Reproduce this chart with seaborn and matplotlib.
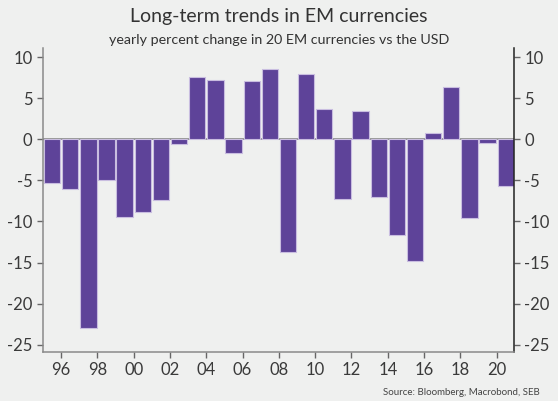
import seaborn as sns
import matplotlib.pyplot as plt
import pandas as pd
import numpy as np

years = list(range(1995, 2021))
pct_change = [-5.3, -6.0, -23.0, -5.0, -9.4, -8.8, -7.4, -0.6, 7.6, 7.2,
              -1.7, 7.1, 8.6, -13.7, 7.9, 3.7, -7.3, 3.5, -7.0, -11.7,
              -14.8, 0.75, 6.4, -9.6, -0.5, -5.7]
tick_years = list(range(1996, 2021, 2))
y_ticks = [10, 5, 0, -5, -10, -15, -20, -25]

bg = "#eff0ef"
bar_color = "#5e4399"

df = pd.DataFrame({"year": years, "change": pct_change})

sns.set_style("ticks")
plt.rcParams["font.family"] = ["Lato", "DejaVu Sans"]

fig = plt.figure(figsize=(5.58, 4.01), dpi=100, facecolor=bg)
ax = fig.add_axes([0.077, 0.122, 0.844, 0.758])
ax.set_facecolor(bg)

sns.barplot(data=df, x="year", y="change", color=bar_color, saturation=1,
            width=0.9, edgecolor="#c9bde0", linewidth=0.8, ax=ax)

ax.axhline(0, color="#8a8a8a", linewidth=1.2, zorder=0)

# ticks sit on the year boundaries
pos = [years.index(y) - 0.5 for y in tick_years]
ax.set_xticks(pos)
ax.set_xticklabels([f"{y % 100:02d}" for y in tick_years])
ax.set_xlim(-0.5, len(years) - 0.55)
ax.set_ylim(-25.9, 11.1)
ax.set_yticks(y_ticks)
ax.set_yticklabels([str(v) for v in y_ticks])
ax.set_xlabel("")
ax.set_ylabel("")

ax.tick_params(axis="both", labelsize=12, color="#666666", labelcolor="#3a3a3a",
               length=4, width=1)
ax.tick_params(axis="y", right=True, labelright=True)

ax.spines["top"].set_visible(False)
ax.spines["left"].set_color("#8a8a8a")
ax.spines["bottom"].set_color("#8a8a8a")
ax.spines["right"].set_visible(True)
ax.spines["right"].set_color("#222222")
for s in ["left", "bottom", "right"]:
    ax.spines[s].set_linewidth(1.1)

fig.text(0.5, 0.96, "Long-term trends in EM currencies", ha="center",
         va="center", fontsize=14, color="#333333")
fig.text(0.5, 0.9, "yearly percent change in 20 EM currencies vs the USD",
         ha="center", va="center", fontsize=10.3, color="#333333")
fig.text(0.968, 0.022, "Source: Bloomberg, Macrobond, SEB", ha="right",
         va="center", fontsize=7, color="#444444")

fig.savefig("out.png", dpi=100, facecolor=bg)
